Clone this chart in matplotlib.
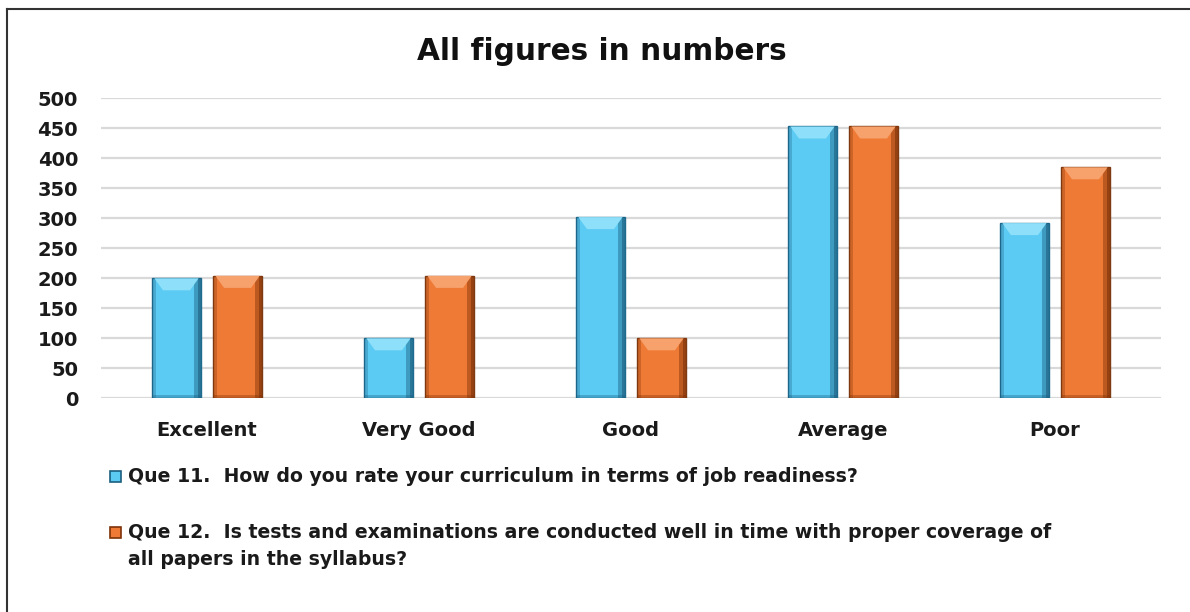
import matplotlib
matplotlib.use("Agg")
import matplotlib.pyplot as plt
from matplotlib.patches import Rectangle, Polygon
from matplotlib.lines import Line2D
import numpy as np

categories = ["Excellent", "Very Good", "Good", "Average", "Poor"]
que11 = [200, 100, 302, 453, 292]
que12 = [204, 204, 100, 453, 385]
series_labels = [
    "Que 11.  How do you rate your curriculum in terms of job readiness?",
    "Que 12.  Is tests and examinations are conducted well in time with proper coverage of\nall papers in the syllabus?",
]
title = "All figures in numbers"
yticks = list(range(0, 501, 50))

plt.rcParams['font.family'] = ['DejaVu Sans']

fig = plt.figure(figsize=(11.9, 6.12), dpi=100)
ax = fig.add_axes([0.0849, 0.3492, 0.8907, 0.4902])

x = np.arange(len(categories))
w = 0.227
off = 0.144

styles = [
    dict(base="#5CCBF3", dark="#1B5F80", light="#8EE0FA", edge="#1F6A8E"),
    dict(base="#EE7A35", dark="#7E3208", light="#F7A26C", edge="#7E3A12"),
]

bev_h = 20   # bevel height in data units (visual styling only)
for vals, sgn, st in [(que11, -1, styles[0]), (que12, 1, styles[1])]:
    pos = x + sgn * off
    vals = np.array(vals, dtype=float)
    bars = ax.bar(pos, vals, w, color=st["base"], edgecolor=st["edge"], linewidth=1.0, zorder=3)
    # right shadow strips (gradient)
    ax.bar(pos + w * 0.43, vals, w * 0.14, color=st["dark"], alpha=0.45, linewidth=0, zorder=4)
    ax.bar(pos + w * 0.47, vals, w * 0.06, color=st["dark"], alpha=0.6, linewidth=0, zorder=4)
    # left dim strip
    ax.bar(pos - w * 0.46, vals, w * 0.08, color=st["dark"], alpha=0.3, linewidth=0, zorder=4)
    # bottom dark band
    ax.bar(pos, np.full_like(vals, 6), w, bottom=0, color=st["dark"], alpha=0.35, linewidth=0, zorder=4)
    # top bevel trapezoid built from each bar's geometry
    for b in bars:
        x0, wd, top = b.get_x(), b.get_width(), b.get_height()
        poly = Polygon([(x0 + wd * 0.04, top), (x0 + wd * 0.96, top),
                        (x0 + wd * 0.78, top - bev_h), (x0 + wd * 0.22, top - bev_h)],
                       closed=True, facecolor=st["light"], edgecolor='none', zorder=5)
        ax.add_patch(poly)

ax.set_xlim(-0.5, len(categories) - 0.5)
ax.set_ylim(0, 500)
ax.set_yticks(yticks)
ax.set_xticks(x)
ax.set_xticklabels(categories)
for s in ax.spines.values():
    s.set_visible(False)
ax.grid(axis='y', color="#D9D9D9", linewidth=1.6, zorder=0)
ax.set_axisbelow(True)
ax.tick_params(axis='both', length=0, labelsize=14, colors="#1a1a1a")
ax.tick_params(axis='y', pad=16.5)
ax.tick_params(axis='x', pad=16)
for lab in ax.get_xticklabels() + ax.get_yticklabels():
    lab.set_fontweight('bold')

fig.text(0.5055, 0.916, title, ha='center', va='center', fontsize=21.3, fontweight='bold', color="#111111")

# legend
leg_y = [476, 532]
for (yy, lab, st) in zip(leg_y, series_labels, styles):
    fy = 1 - yy / 612
    fig.patches.append(Rectangle((110 / 1190, fy - 5.5 / 612), 11 / 1190, 11 / 612,
                                 transform=fig.transFigure, facecolor=st["base"],
                                 edgecolor=st["dark"], linewidth=1.2))
    fig.text(128 / 1190, fy + 9 / 612, lab, ha='left', va='top', fontsize=13.6, fontweight='bold',
             color="#1a1a1a", linespacing=1.55)

# frame
fig.add_artist(Line2D([7 / 1190, 7 / 1190], [0, 1 - 9 / 612], transform=fig.transFigure, color="#333333", linewidth=1.5))
fig.add_artist(Line2D([7 / 1190, 1], [1 - 9 / 612, 1 - 9 / 612], transform=fig.transFigure, color="#333333", linewidth=1.5))

fig.savefig("out.png", dpi=100)
